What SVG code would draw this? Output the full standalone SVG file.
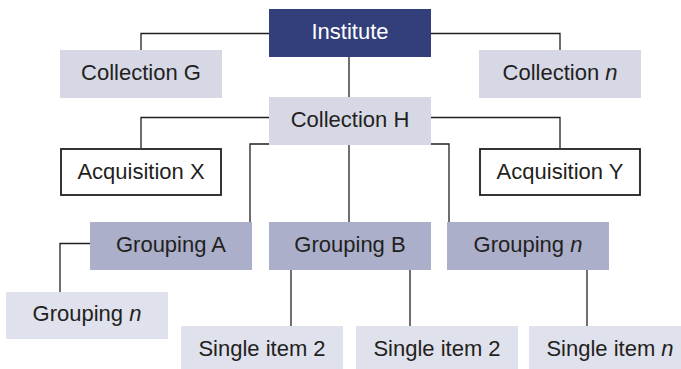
<svg xmlns="http://www.w3.org/2000/svg" width="681" height="369" viewBox="0 0 681 369">
<style>
text{font-family:"Liberation Sans",Arial,sans-serif;font-size:22px;fill:#231f20;text-anchor:middle}
.inst{fill:#323f7b}
.coll{fill:#d6d8e6}
.acq{fill:#ffffff;stroke:#231f20;stroke-width:1.8}
.grp{fill:#abafca}
.lite{fill:#dfe1ec}
.w{fill:#ffffff}
#connectors path{fill:none;stroke:#231f20;stroke-width:1.3}
</style>
<rect width="681" height="369" fill="#ffffff"/>
<g id="connectors">
<path d="M269 33.5H141V50"/>
<path d="M431 33.5H560V50"/>
<path d="M349 57V97"/>
<path d="M269 117.5H141V148"/>
<path d="M431 117.5H560V148"/>
<path d="M269 144H250V222"/>
<path d="M431 144H449V222"/>
<path d="M349 145V222"/>
<path d="M90 243.5H60V292"/>
<path d="M291 270V326"/>
<path d="M410 270V326"/>
<path d="M587 270V326"/>
</g>
<g id="institute"><rect class="inst" x="269" y="9" width="162" height="48"/><text class="w" x="350" y="38.5">Institute</text></g>
<g id="collection-g"><rect class="coll" x="60" y="50" width="162" height="48"/><text x="141" y="79.5">Collection G</text></g>
<g id="collection-n"><rect class="coll" x="479" y="50" width="162" height="48"/><text x="560" y="79.5">Collection <tspan font-style="italic">n</tspan></text></g>
<g id="collection-h"><rect class="coll" x="269" y="97" width="162" height="48"/><text x="350" y="126.5">Collection H</text></g>
<g id="acquisition-x"><rect class="acq" x="61" y="149" width="160" height="46"/><text x="141" y="178.5">Acquisition X</text></g>
<g id="acquisition-y"><rect class="acq" x="480" y="149" width="160" height="46"/><text x="560" y="178.5">Acquisition Y</text></g>
<g id="grouping-a"><rect class="grp" x="90" y="222" width="162" height="48"/><text x="171" y="251.5">Grouping A</text></g>
<g id="grouping-b"><rect class="grp" x="269" y="222" width="162" height="48"/><text x="350" y="251.5">Grouping B</text></g>
<g id="grouping-n"><rect class="grp" x="447" y="222" width="162" height="48"/><text x="528" y="251.5">Grouping <tspan font-style="italic">n</tspan></text></g>
<g id="grouping-n-sub"><rect class="lite" x="6" y="292" width="162" height="47"/><text x="87" y="321">Grouping <tspan font-style="italic">n</tspan></text></g>
<g id="single-item-2a"><rect class="lite" x="181" y="326" width="162" height="48"/><text x="262" y="356">Single item 2</text></g>
<g id="single-item-2b"><rect class="lite" x="356" y="326" width="162" height="48"/><text x="437" y="356">Single item 2</text></g>
<g id="single-item-n"><rect class="lite" x="529" y="326" width="162" height="48"/><text x="610" y="356">Single item <tspan font-style="italic">n</tspan></text></g>
</svg>
